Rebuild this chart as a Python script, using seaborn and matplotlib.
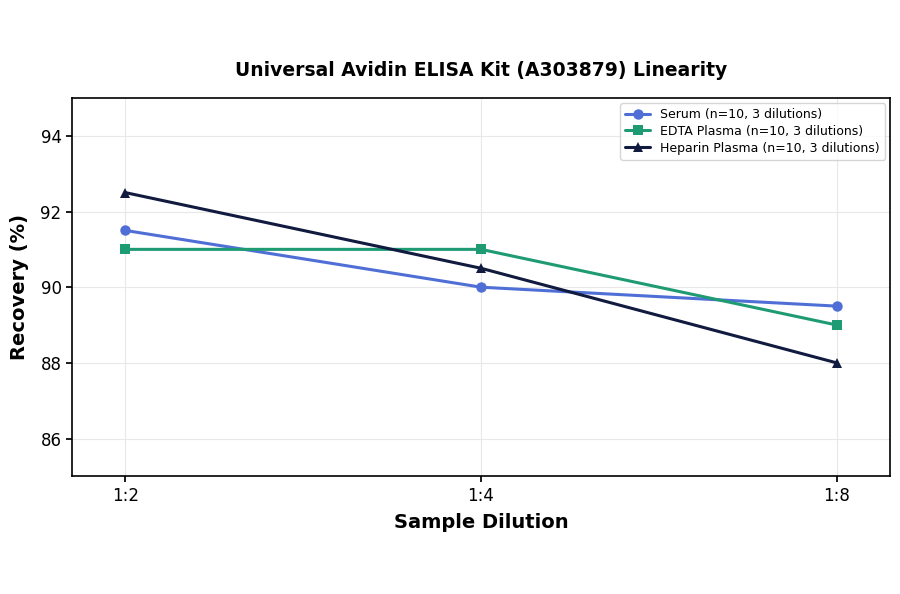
import matplotlib
matplotlib.use("Agg")
import matplotlib.pyplot as plt
import seaborn as sns
import pandas as pd

dilutions = ["1:2", "1:4", "1:8"]
serum = [91.5, 90.0, 89.5]
edta = [91.0, 91.0, 89.0]
heparin = [92.5, 90.5, 88.0]
series_names = ["Serum (n=10, 3 dilutions)", "EDTA Plasma (n=10, 3 dilutions)", "Heparin Plasma (n=10, 3 dilutions)"]
colors = ["#4f6fd6", "#1f9b74", "#111a3f"]
markers = ["o", "s", "^"]

sns.set_theme(style="whitegrid")
plt.rcParams['font.family'] = ['DejaVu Sans']
plt.rcParams['text.color'] = 'black'
plt.rcParams['axes.labelcolor'] = 'black'
plt.rcParams['xtick.color'] = 'black'
plt.rcParams['ytick.color'] = 'black'

rows = []
for name, vals in zip(series_names, [serum, edta, heparin]):
    for i, (d, v) in enumerate(zip(dilutions, vals)):
        rows.append({"pos": i, "Dilution": d, "Recovery": v, "Series": name})
df = pd.DataFrame(rows)

fig, ax = plt.subplots(figsize=(9, 5.94), dpi=100)
fig.subplots_adjust(left=0.08, right=0.989, top=0.835, bottom=0.198)

for name, c, m in zip(series_names, colors, markers):
    sub = df[df["Series"] == name]
    sns.lineplot(data=sub, x="pos", y="Recovery", ax=ax, color=c, marker=m,
                 markersize=7.5, linewidth=2.2, markeredgewidth=0, label=name)

ax.set_xlim(-0.15, 2.15)
ax.set_ylim(85, 95)
ax.set_xticks(range(len(dilutions)))
ax.set_xticklabels(dilutions)
ax.set_yticks([86, 88, 90, 92, 94])
ax.tick_params(axis="both", labelsize=12, colors="black", length=4, left=True, bottom=True)
ax.grid(True, color="#e8e8e8", linewidth=0.8)
for s in ax.spines.values():
    s.set_visible(True)
    s.set_color("black")
    s.set_linewidth(1.2)

ax.set_xlabel("Sample Dilution", fontsize=14, fontweight="bold", labelpad=6, color="black")
ax.set_ylabel("Recovery (%)", fontsize=14, fontweight="bold", labelpad=8, color="black")
ax.set_title("Universal Avidin ELISA Kit (A303879) Linearity", fontsize=13.5, fontweight="bold", pad=16, color="black")

leg = ax.legend(loc="upper right", fontsize=9, frameon=True, borderpad=0.4, handlelength=2.0,
                labelspacing=0.3, borderaxespad=0.4)
leg.get_frame().set_edgecolor("#cccccc")
for t in leg.get_texts():
    t.set_color("black")

fig.savefig("out.png", dpi=100, facecolor="white")
